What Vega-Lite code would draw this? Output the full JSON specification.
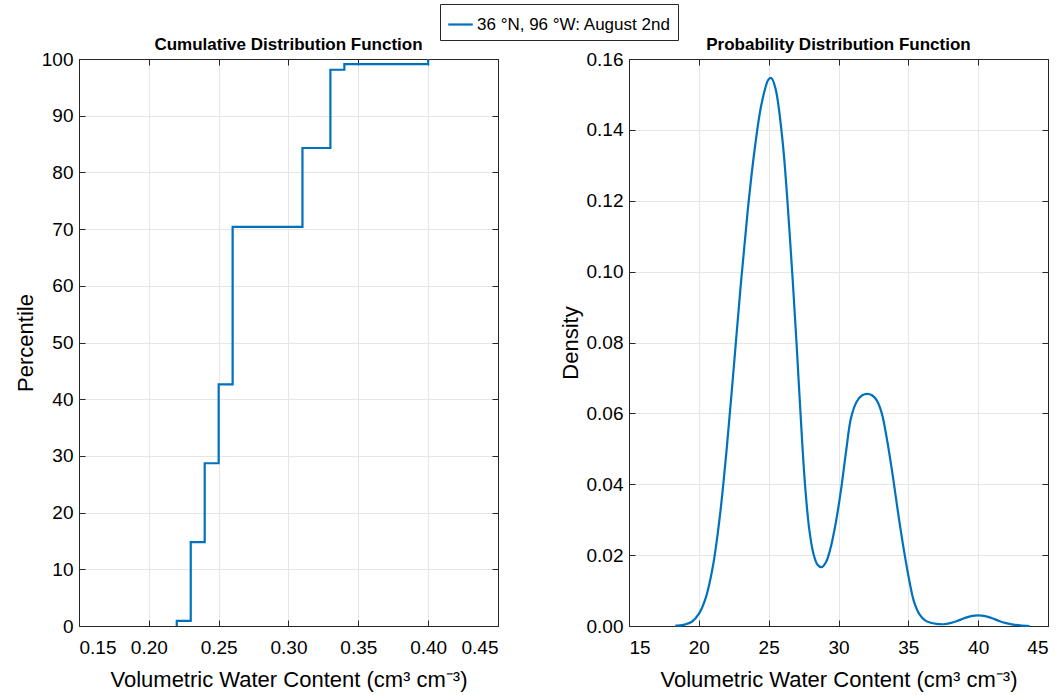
{
  "$schema": "https://vega.github.io/schema/vega-lite/v6.json",
  "background": "white",
  "padding": {"left": 13, "top": 3, "right": 5, "bottom": 2},
  "spacing": 131,
  "bounds": "flush",
  "config": {
    "font": "Liberation Sans",
    "view": {"stroke": "#262626", "strokeWidth": 1},
    "axis": {
      "labelFont": "Liberation Sans",
      "titleFont": "Liberation Sans",
      "labelFontSize": 19,
      "titleFontSize": 22,
      "titleFontWeight": "normal",
      "labelColor": "#000000",
      "titleColor": "#000000",
      "domainColor": "#262626",
      "tickColor": "#262626",
      "gridColor": "#e6e6e6",
      "gridWidth": 1,
      "tickSize": -6,
      "tickWidth": 1
    },
    "axisX": {"labelPadding": 18},
    "axisY": {"labelPadding": 12},
    "title": {"font": "Liberation Sans", "fontSize": 17, "fontWeight": "bold", "color": "#000000", "offset": -4}
  },
  "datasets": {
    "cdf": [
      {"vwc": 0.22, "pct": 0, "series": "36 °N, 96 °W: August 2nd"},
      {"vwc": 0.22, "pct": 0.9, "series": "36 °N, 96 °W: August 2nd"},
      {"vwc": 0.23, "pct": 14.8, "series": "36 °N, 96 °W: August 2nd"},
      {"vwc": 0.24, "pct": 28.7, "series": "36 °N, 96 °W: August 2nd"},
      {"vwc": 0.25, "pct": 42.6, "series": "36 °N, 96 °W: August 2nd"},
      {"vwc": 0.26, "pct": 70.4, "series": "36 °N, 96 °W: August 2nd"},
      {"vwc": 0.31, "pct": 84.3, "series": "36 °N, 96 °W: August 2nd"},
      {"vwc": 0.33, "pct": 98.1, "series": "36 °N, 96 °W: August 2nd"},
      {"vwc": 0.34, "pct": 99.1, "series": "36 °N, 96 °W: August 2nd"},
      {"vwc": 0.40, "pct": 100, "series": "36 °N, 96 °W: August 2nd"}
    ],
    "pdf": [
      {"vwc": 18.31, "density": 0.0001, "series": "36 °N, 96 °W: August 2nd"},
      {"vwc": 18.5, "density": 0.0001, "series": "36 °N, 96 °W: August 2nd"},
      {"vwc": 19.0, "density": 0.0004, "series": "36 °N, 96 °W: August 2nd"},
      {"vwc": 19.5, "density": 0.0012, "series": "36 °N, 96 °W: August 2nd"},
      {"vwc": 20.0, "density": 0.0034, "series": "36 °N, 96 °W: August 2nd"},
      {"vwc": 20.5, "density": 0.008, "series": "36 °N, 96 °W: August 2nd"},
      {"vwc": 21.0, "density": 0.0167, "series": "36 °N, 96 °W: August 2nd"},
      {"vwc": 21.5, "density": 0.0308, "series": "36 °N, 96 °W: August 2nd"},
      {"vwc": 22.0, "density": 0.0502, "series": "36 °N, 96 °W: August 2nd"},
      {"vwc": 22.5, "density": 0.0729, "series": "36 °N, 96 °W: August 2nd"},
      {"vwc": 23.0, "density": 0.0962, "series": "36 °N, 96 °W: August 2nd"},
      {"vwc": 23.5, "density": 0.1172, "series": "36 °N, 96 °W: August 2nd"},
      {"vwc": 24.0, "density": 0.1346, "series": "36 °N, 96 °W: August 2nd"},
      {"vwc": 24.5, "density": 0.1475, "series": "36 °N, 96 °W: August 2nd"},
      {"vwc": 25.0, "density": 0.1543, "series": "36 °N, 96 °W: August 2nd"},
      {"vwc": 25.2, "density": 0.1546, "series": "36 °N, 96 °W: August 2nd"},
      {"vwc": 25.5, "density": 0.1515, "series": "36 °N, 96 °W: August 2nd"},
      {"vwc": 26.0, "density": 0.1367, "series": "36 °N, 96 °W: August 2nd"},
      {"vwc": 26.5, "density": 0.1109, "series": "36 °N, 96 °W: August 2nd"},
      {"vwc": 27.0, "density": 0.0795, "series": "36 °N, 96 °W: August 2nd"},
      {"vwc": 27.28, "density": 0.06, "series": "36 °N, 96 °W: August 2nd"},
      {"vwc": 27.6, "density": 0.04, "series": "36 °N, 96 °W: August 2nd"},
      {"vwc": 27.9, "density": 0.0275, "series": "36 °N, 96 °W: August 2nd"},
      {"vwc": 28.2, "density": 0.0205, "series": "36 °N, 96 °W: August 2nd"},
      {"vwc": 28.5, "density": 0.0173, "series": "36 °N, 96 °W: August 2nd"},
      {"vwc": 28.8, "density": 0.0166, "series": "36 °N, 96 °W: August 2nd"},
      {"vwc": 29.1, "density": 0.018, "series": "36 °N, 96 °W: August 2nd"},
      {"vwc": 29.4, "density": 0.0215, "series": "36 °N, 96 °W: August 2nd"},
      {"vwc": 29.8, "density": 0.029, "series": "36 °N, 96 °W: August 2nd"},
      {"vwc": 30.2, "density": 0.039, "series": "36 °N, 96 °W: August 2nd"},
      {"vwc": 30.55, "density": 0.0495, "series": "36 °N, 96 °W: August 2nd"},
      {"vwc": 30.9, "density": 0.0588, "series": "36 °N, 96 °W: August 2nd"},
      {"vwc": 31.3, "density": 0.0633, "series": "36 °N, 96 °W: August 2nd"},
      {"vwc": 31.7, "density": 0.0651, "series": "36 °N, 96 °W: August 2nd"},
      {"vwc": 32.06, "density": 0.0655, "series": "36 °N, 96 °W: August 2nd"},
      {"vwc": 32.4, "density": 0.0651, "series": "36 °N, 96 °W: August 2nd"},
      {"vwc": 32.75, "density": 0.0636, "series": "36 °N, 96 °W: August 2nd"},
      {"vwc": 33.1, "density": 0.06, "series": "36 °N, 96 °W: August 2nd"},
      {"vwc": 33.5, "density": 0.052, "series": "36 °N, 96 °W: August 2nd"},
      {"vwc": 33.9, "density": 0.042, "series": "36 °N, 96 °W: August 2nd"},
      {"vwc": 34.3, "density": 0.031, "series": "36 °N, 96 °W: August 2nd"},
      {"vwc": 34.7, "density": 0.021, "series": "36 °N, 96 °W: August 2nd"},
      {"vwc": 35.1, "density": 0.0122, "series": "36 °N, 96 °W: August 2nd"},
      {"vwc": 35.41, "density": 0.0068, "series": "36 °N, 96 °W: August 2nd"},
      {"vwc": 35.8, "density": 0.0033, "series": "36 °N, 96 °W: August 2nd"},
      {"vwc": 36.2, "density": 0.0016, "series": "36 °N, 96 °W: August 2nd"},
      {"vwc": 36.6, "density": 0.0009, "series": "36 °N, 96 °W: August 2nd"},
      {"vwc": 37.0, "density": 0.0006, "series": "36 °N, 96 °W: August 2nd"},
      {"vwc": 37.5, "density": 0.0005, "series": "36 °N, 96 °W: August 2nd"},
      {"vwc": 38.0, "density": 0.0008, "series": "36 °N, 96 °W: August 2nd"},
      {"vwc": 38.5, "density": 0.0014, "series": "36 °N, 96 °W: August 2nd"},
      {"vwc": 39.0, "density": 0.0022, "series": "36 °N, 96 °W: August 2nd"},
      {"vwc": 39.5, "density": 0.0028, "series": "36 °N, 96 °W: August 2nd"},
      {"vwc": 40.0, "density": 0.003, "series": "36 °N, 96 °W: August 2nd"},
      {"vwc": 40.5, "density": 0.0028, "series": "36 °N, 96 °W: August 2nd"},
      {"vwc": 41.0, "density": 0.0022, "series": "36 °N, 96 °W: August 2nd"},
      {"vwc": 41.5, "density": 0.0014, "series": "36 °N, 96 °W: August 2nd"},
      {"vwc": 42.0, "density": 0.0008, "series": "36 °N, 96 °W: August 2nd"},
      {"vwc": 42.5, "density": 0.0004, "series": "36 °N, 96 °W: August 2nd"},
      {"vwc": 43.0, "density": 0.0002, "series": "36 °N, 96 °W: August 2nd"},
      {"vwc": 43.69, "density": 0.0, "series": "36 °N, 96 °W: August 2nd"}
    ]
  },
  "hconcat": [
    {
      "width": 419,
      "height": 567,
      "title": {"text": "Cumulative Distribution Function"},
      "data": {"name": "cdf"},
      "layer": [
        {
          "mark": {"type": "line", "interpolate": "step-after", "strokeWidth": 2.2},
          "encoding": {
            "x": {"field": "vwc", "type": "quantitative", "scale": {"domain": [0.15, 0.45], "nice": false, "zero": false},
              "axis": {"title": "Volumetric Water Content (cm³ cm⁻³)", "values": [0.15, 0.2, 0.25, 0.3, 0.35, 0.4, 0.45], "format": ".2f", "grid": true, "titlePadding": 12}},
            "y": {"field": "pct", "type": "quantitative", "scale": {"domain": [0, 100], "nice": false},
              "axis": {"title": "Percentile", "values": [0, 10, 20, 30, 40, 50, 60, 70, 80, 90, 100], "grid": true, "titlePadding": 4}},
            "color": {"field": "series", "type": "nominal", "scale": {"range": ["#0072BD"]},
              "legend": {"title": null, "orient": "none", "legendX": 361, "legendY": -55, "symbolType": "stroke", "symbolStrokeWidth": 2.2, "symbolSize": 600, "labelFontSize": 17, "labelFont": "Liberation Sans", "labelColor": "#000000", "labelLimit": 500, "labelOffset": 3, "strokeColor": "#262626", "fillColor": "white", "padding": 7}}
          }
        },
        {
          "mark": {"type": "line", "opacity": 0},
          "encoding": {
            "x": {"field": "vwc", "type": "quantitative", "axis": {"orient": "top", "labels": false, "title": null, "grid": false, "labelPadding": 0, "values": [0.15, 0.2, 0.25, 0.3, 0.35, 0.4, 0.45]}},
            "y": {"field": "pct", "type": "quantitative", "axis": {"orient": "right", "labels": false, "title": null, "grid": false, "labelPadding": 0, "values": [0, 10, 20, 30, 40, 50, 60, 70, 80, 90, 100]}}
          }
        }
      ],
      "resolve": {"axis": {"x": "independent", "y": "independent"}}
    },
    {
      "width": 419,
      "height": 567,
      "title": {"text": "Probability Distribution Function"},
      "data": {"name": "pdf"},
      "layer": [
        {
          "mark": {"type": "line", "interpolate": "catmull-rom", "strokeWidth": 2.2},
          "encoding": {
            "x": {"field": "vwc", "type": "quantitative", "scale": {"domain": [15, 45], "nice": false, "zero": false},
              "axis": {"title": "Volumetric Water Content (cm³ cm⁻³)", "values": [15, 20, 25, 30, 35, 40, 45], "grid": true, "titlePadding": 12}},
            "y": {"field": "density", "type": "quantitative", "scale": {"domain": [0, 0.16], "nice": false},
              "axis": {"title": "Density", "values": [0, 0.02, 0.04, 0.06, 0.08, 0.1, 0.12, 0.14, 0.16], "format": ".2f", "grid": true, "titlePadding": 4}},
            "color": {"field": "series", "type": "nominal", "scale": {"range": ["#0072BD"]},
              "legend": {"title": null, "orient": "none", "legendX": 361, "legendY": -55, "symbolType": "stroke", "symbolStrokeWidth": 2.2, "symbolSize": 600, "labelFontSize": 17, "labelFont": "Liberation Sans", "labelColor": "#000000", "labelLimit": 500, "labelOffset": 3, "strokeColor": "#262626", "fillColor": "white", "padding": 7}}
          }
        },
        {
          "mark": {"type": "line", "opacity": 0},
          "encoding": {
            "x": {"field": "vwc", "type": "quantitative", "axis": {"orient": "top", "labels": false, "title": null, "grid": false, "labelPadding": 0, "values": [15, 20, 25, 30, 35, 40, 45]}},
            "y": {"field": "density", "type": "quantitative", "axis": {"orient": "right", "labels": false, "title": null, "grid": false, "labelPadding": 0, "values": [0, 0.02, 0.04, 0.06, 0.08, 0.1, 0.12, 0.14, 0.16]}}
          }
        }
      ],
      "resolve": {"axis": {"x": "independent", "y": "independent"}}
    }
  ]
}
